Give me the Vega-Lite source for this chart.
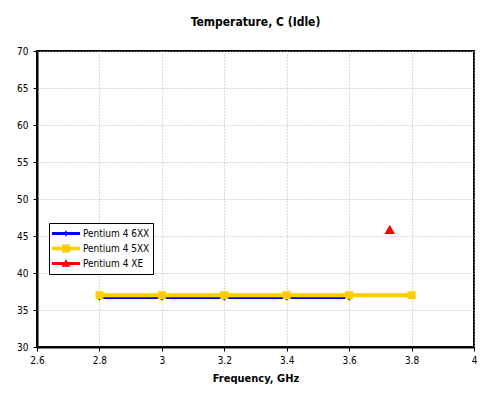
{
  "$schema": "https://vega.github.io/schema/vega-lite/v6.json",
  "width": 437,
  "height": 296,
  "autosize": {"type": "none"},
  "padding": {"left": 37, "top": 51, "right": 26, "bottom": 50},
  "background": "white",
  "title": {
    "text": "Temperature, C (Idle)",
    "font": "DejaVu Sans Condensed, DejaVu Sans",
    "fontSize": 12,
    "fontWeight": "bold",
    "color": "black",
    "anchor": "middle",
    "frame": "group",
    "offset": 17
  },
  "config": {
    "view": {"stroke": "black", "strokeWidth": 2},
    "font": "DejaVu Sans Condensed, DejaVu Sans",
    "axis": {
      "labelFont": "DejaVu Sans Condensed, DejaVu Sans",
      "labelFontSize": 10,
      "labelColor": "black",
      "titleFont": "DejaVu Sans Condensed, DejaVu Sans",
      "titleFontSize": 11,
      "titleFontWeight": "bold",
      "titleColor": "black",
      "domainColor": "black",
      "domainWidth": 2,
      "tickColor": "black",
      "tickSize": 4,
      "gridColor": "#b4b4b4",
      "gridDash": [1, 2],
      "gridWidth": 1
    }
  },
  "data": {
    "values": [
      {"series": "Pentium 4 6XX", "freq": 2.8, "temp": 36.7},
      {"series": "Pentium 4 6XX", "freq": 3.0, "temp": 36.7},
      {"series": "Pentium 4 6XX", "freq": 3.2, "temp": 36.7},
      {"series": "Pentium 4 6XX", "freq": 3.4, "temp": 36.7},
      {"series": "Pentium 4 6XX", "freq": 3.6, "temp": 36.7},
      {"series": "Pentium 4 5XX", "freq": 2.8, "temp": 37.0},
      {"series": "Pentium 4 5XX", "freq": 3.0, "temp": 37.0},
      {"series": "Pentium 4 5XX", "freq": 3.2, "temp": 37.0},
      {"series": "Pentium 4 5XX", "freq": 3.4, "temp": 37.0},
      {"series": "Pentium 4 5XX", "freq": 3.6, "temp": 37.0},
      {"series": "Pentium 4 5XX", "freq": 3.8, "temp": 37.0},
      {"series": "Pentium 4 XE", "freq": 3.73, "temp": 45.9}
    ]
  },
  "encoding": {
    "x": {
      "field": "freq", "type": "quantitative",
      "scale": {"domain": [2.6, 4], "nice": false, "zero": false},
      "axis": {"values": [2.6, 2.8, 3, 3.2, 3.4, 3.6, 3.8, 4], "format": "~g", "title": "Frequency, GHz", "labelPadding": 4, "titlePadding": 7, "labelFlush": false}
    },
    "y": {
      "field": "temp", "type": "quantitative",
      "scale": {"domain": [30, 70], "nice": false, "zero": false},
      "axis": {"values": [30, 35, 40, 45, 50, 55, 60, 65, 70], "title": null, "labelPadding": 5, "labelFlush": false}
    }
  },
  "layer": [
    {
      "mark": {"type": "line", "strokeWidth": 3},
      "encoding": {
        "color": {
          "field": "series", "type": "nominal",
          "scale": {"domain": ["Pentium 4 6XX", "Pentium 4 5XX", "Pentium 4 XE"], "range": ["#0000ff", "#ffcc00", "#ff0000"]},
          "legend": {
            "title": null,
            "orient": "none",
            "legendX": 12,
            "legendY": 172,
            "strokeColor": "black",
            "fillColor": "white",
            "padding": 3,
            "symbolType": "M-1,-0.1H1V0.1H-1Z",
            "symbolSize": 784,
            "symbolStrokeWidth": 0,
            "clipHeight": 15,
            "rowPadding": 0,
            "labelOffset": 3,
            "labelFont": "DejaVu Sans Condensed, DejaVu Sans",
            "labelFontSize": 10,
            "labelColor": "black",
            "encode": {
              "symbols": {
                "update": {
                  "shape": {"signal": "datum.value == 'Pentium 4 6XX' ? 'M-1,-0.1H1V0.1H-1Z M0,-0.22L0.17,0L0,0.22L-0.17,0Z' : datum.value == 'Pentium 4 5XX' ? 'M-1,-0.12H1V0.12H-1Z M-0.28,-0.28H0.28V0.28H-0.28Z' : 'M-1,-0.1H1V0.1H-1Z M0,-0.3L0.32,0.24H-0.32Z'"},
                  "fill": {"signal": "scale('color', datum.value)"},
                  "fillOpacity": {"value": 1},
                  "strokeWidth": {"value": 0}
                }
              }
            }
          }
        }
      }
    },
    {
      "transform": [{"filter": "datum.series == 'Pentium 4 5XX'"}],
      "mark": {"type": "line", "strokeWidth": 4, "color": "#ffcc00"}
    },
    {
      "transform": [{"filter": "datum.series == 'Pentium 4 6XX'"}],
      "mark": {"type": "point", "filled": true, "opacity": 1, "shape": "diamond", "size": 36, "color": "#0000ff"}
    },
    {
      "transform": [{"filter": "datum.series == 'Pentium 4 5XX'"}],
      "mark": {"type": "point", "filled": true, "opacity": 1, "shape": "square", "size": 64, "color": "#ffcc00"}
    },
    {
      "transform": [{"filter": "datum.series == 'Pentium 4 XE'"}],
      "mark": {"type": "point", "filled": true, "opacity": 1, "shape": "triangle-up", "size": 110, "color": "#ff0000"}
    }
  ]
}
